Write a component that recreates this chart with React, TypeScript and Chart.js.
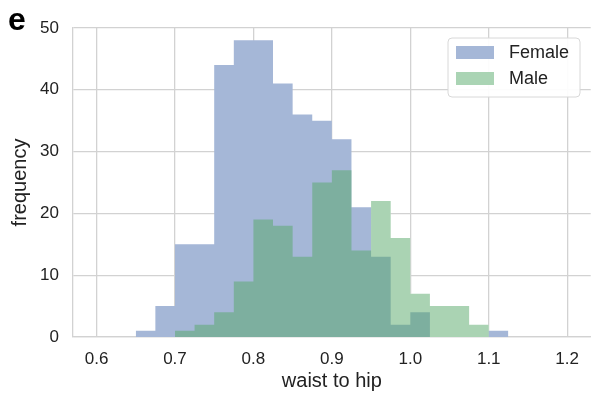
import React, { useEffect, useRef } from "react";
import { Chart, registerables } from "chart.js";

Chart.register(...registerables);

// ---- data ----
const binEdges = [
  0.65, 0.675, 0.7, 0.725, 0.75, 0.775, 0.8, 0.825, 0.85, 0.875,
  0.9, 0.925, 0.95, 0.975, 1.0, 1.025, 1.05, 1.075, 1.1, 1.125,
];
const femaleCounts = [1, 5, 15, 15, 44, 48, 48, 41, 36, 35, 32, 21, 13, 2, 4, 0, 0, 0, 1];
const maleCounts = [0, 0, 1, 2, 4, 9, 19, 18, 13, 25, 27, 14, 22, 16, 7, 5, 5, 2, 0];
const seriesLabels = ["Female", "Male"];
const xTickValues = [0.6, 0.7, 0.8, 0.9, 1.0, 1.1, 1.2];
const yTickValues = [0, 10, 20, 30, 40, 50];
const xAxisTitle = "waist to hip";
const yAxisTitle = "frequency";
const panelLetter = "e";

const FONT = '"Liberation Sans", Arial, Helvetica, sans-serif';
const TEXT = "#222222";
const GRID = "#d2d2d2";
const FEMALE_FILL = "#a5b7d7";
const MALE_FILL = "rgba(85,168,104,0.5)";
const MALE_PATCH = "#aad4b4";

function stepPoints(counts: number[]) {
  // point i sits at the left edge of bin i and carries bin i's count (last edge closes the final bin)
  return binEdges.map((e, i) => ({ x: e, y: counts[Math.min(i, counts.length - 1)] }));
}

const overlayPlugin = {
  id: "overlay",
  afterDraw(chart: any) {
    const ctx = chart.ctx as CanvasRenderingContext2D;
    ctx.save();
    ctx.font = `bold 32px ${FONT}`;
    ctx.fillStyle = "#000";
    ctx.textBaseline = "alphabetic";
    ctx.textAlign = "left";
    ctx.fillText(panelLetter, 8, 30);

    const x0 = 448, y0 = 38, w = 132, h = 59, r = 4;
    ctx.beginPath();
    ctx.moveTo(x0 + r, y0);
    ctx.lineTo(x0 + w - r, y0);
    ctx.arcTo(x0 + w, y0, x0 + w, y0 + r, r);
    ctx.lineTo(x0 + w, y0 + h - r);
    ctx.arcTo(x0 + w, y0 + h, x0 + w - r, y0 + h, r);
    ctx.lineTo(x0 + r, y0 + h);
    ctx.arcTo(x0, y0 + h, x0, y0 + h - r, r);
    ctx.lineTo(x0, y0 + r);
    ctx.arcTo(x0, y0, x0 + r, y0, r);
    ctx.closePath();
    ctx.fillStyle = "rgba(255,255,255,0.92)";
    ctx.fill();
    ctx.strokeStyle = "#d8d8d8";
    ctx.lineWidth = 1;
    ctx.stroke();

    const patchColors = [FEMALE_FILL, MALE_PATCH];
    ctx.font = `18px ${FONT}`;
    ctx.textBaseline = "middle";
    seriesLabels.forEach((lab, i) => {
      const cy = 52.5 + i * 26;
      ctx.fillStyle = patchColors[i];
      ctx.fillRect(456, cy - 6.5, 38, 13);
      ctx.fillStyle = TEXT;
      ctx.fillText(lab, 509, cy + 1);
    });
    ctx.restore();
  },
};

export default function App() {
  const ref = useRef<HTMLCanvasElement | null>(null);

  useEffect(() => {
    if (!ref.current) return;
    const common = {
      stepped: "before",
      fill: "origin",
      borderColor: "rgba(0,0,0,0)",
      borderWidth: 0,
      pointRadius: 0,
    };
    const chart = new Chart(ref.current, {
      type: "line",
      data: {
        datasets: [
          { ...common, label: "_underlay", data: stepPoints(maleCounts), backgroundColor: "#ffffff", order: 3 },
          { ...common, label: seriesLabels[0], data: stepPoints(femaleCounts), backgroundColor: FEMALE_FILL, order: 2 },
          { ...common, label: seriesLabels[1], data: stepPoints(maleCounts), backgroundColor: MALE_FILL, order: 1 },
        ],
      },
      options: {
        responsive: false,
        animation: false,
        devicePixelRatio: 1,
        layout: { padding: { top: 28, left: 0, right: 0, bottom: 0 } },
        plugins: {
          legend: { display: false },
          tooltip: { enabled: false },
        },
        scales: {
          x: {
            type: "linear",
            min: 0.57,
            max: 1.23,
            afterFit: (s: any) => { s.height = 56; },
            afterBuildTicks: (s: any) => { s.ticks = xTickValues.map((v) => ({ value: v })); },
            ticks: {
              includeBounds: false,
              padding: 12,
              color: TEXT,
              font: { family: FONT, size: 17 },
              callback: (v: any) => Number(v).toFixed(1),
              maxRotation: 0,
            },
            grid: { color: GRID, lineWidth: 1.3, drawTicks: false },
            border: { color: GRID, width: 1.3 },
            title: {
              display: true,
              text: xAxisTitle,
              color: TEXT,
              font: { family: FONT, size: 20, lineHeight: 1.2 },
              padding: { top: 0, bottom: 0 },
            },
          },
          y: {
            type: "linear",
            min: 0,
            max: 50,
            afterFit: (s: any) => { s.width = 73; },
            afterBuildTicks: (s: any) => { s.ticks = yTickValues.map((v) => ({ value: v })); },
            ticks: {
              includeBounds: false,
              padding: 14,
              color: TEXT,
              font: { family: FONT, size: 17 },
            },
            grid: { color: GRID, lineWidth: 1.3, drawTicks: false },
            border: { color: GRID, width: 1.3 },
            title: {
              display: true,
              text: yAxisTitle,
              color: TEXT,
              font: { family: FONT, size: 20, lineHeight: 1.2 },
              padding: { top: 8, bottom: 0 },
            },
          },
        },
      },
      plugins: [overlayPlugin],
    } as any);
    return () => chart.destroy();
  }, []);

  return (
    <div style={{ position: "absolute", left: 0, top: 0, width: 591, height: 393, background: "#fff" }}>
      <canvas ref={ref} width={591} height={393} style={{ display: "block" }} />
    </div>
  );
}
